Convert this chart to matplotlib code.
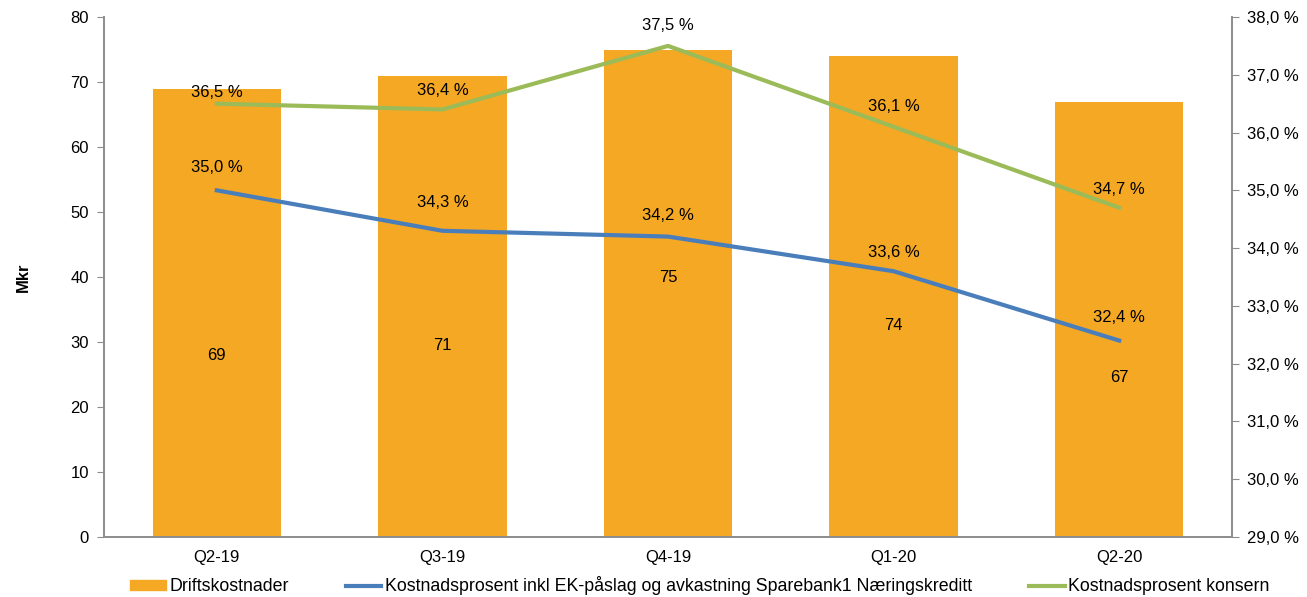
import matplotlib.pyplot as plt
from matplotlib.patches import Patch
from matplotlib.lines import Line2D

plt.rcParams['font.family'] = ['Liberation Sans', 'DejaVu Sans']

quarters = ['Q2-19', 'Q3-19', 'Q4-19', 'Q1-20', 'Q2-20']
driftskostnader = [69, 71, 75, 74, 67]
kost_inkl_ek = [35.0, 34.3, 34.2, 33.6, 32.4]
kost_konsern = [36.5, 36.4, 37.5, 36.1, 34.7]

# where the bar value labels sit (Mkr)
bar_label_y = [28, 29.5, 40, 32.5, 24.5]

orange = '#F5A823'
blue = '#4A7EBB'
green = '#9BBB59'
grey = '#8C8C8C'

fig = plt.figure(figsize=(13.07, 5.97), dpi=100)
ax = fig.add_axes([0.0796, 0.1005, 0.863, 0.871])
ax2 = ax.twinx()

x = range(len(quarters))
ax.bar(x, driftskostnader, width=0.57, color=orange, zorder=2)
ax.set_xlim(-0.5, len(quarters) - 0.5)
ax.set_ylim(0, 80)
ax.set_yticks(range(0, 81, 10))
ax.set_xticks(list(x))
ax.set_xticklabels(quarters)
ax.set_ylabel('Mkr', fontsize=12, fontweight='bold', labelpad=28)

for i, v in enumerate(driftskostnader):
    ax.text(i, bar_label_y[i], f'{v}', ha='center', va='center', fontsize=12)

ax2.plot(x, kost_inkl_ek, color=blue, lw=3, zorder=3)
ax2.plot(x, kost_konsern, color=green, lw=3, zorder=3)
ax2.set_ylim(29, 38)
ax2.set_yticks(range(29, 39))
ax2.set_yticklabels([f'{t},0 %' for t in range(29, 39)])

blue_off = [11, 15, 10, 8, 11]
green_off = [3, 8.5, 9, 9.5, 8]
for i, v in enumerate(kost_inkl_ek):
    ax2.annotate(f'{v:.1f} %'.replace('.', ','), (i, v), xytext=(0, blue_off[i]),
                 textcoords='offset points', ha='center', va='bottom', fontsize=12)
for i, v in enumerate(kost_konsern):
    ax2.annotate(f'{v:.1f} %'.replace('.', ','), (i, v), xytext=(0, green_off[i]),
                 textcoords='offset points', ha='center', va='bottom', fontsize=12)

for a in (ax, ax2):
    a.spines['top'].set_visible(False)
    for s in ('left', 'right', 'bottom'):
        a.spines[s].set_color(grey)
        a.spines[s].set_linewidth(1.2)
    a.tick_params(axis='y', colors='black', labelsize=12, length=5, color=grey)
    a.tick_params(axis='x', labelsize=12, length=0, pad=9)
ax.tick_params(axis='y', pad=6)
ax2.tick_params(axis='y', pad=6)

handles = [Patch(color=orange),
           Line2D([], [], color=blue, lw=3),
           Line2D([], [], color=green, lw=3)]
labels = ['Driftskostnader',
          'Kostnadsprosent inkl EK-påslag og avkastning Sparebank1 Næringskreditt',
          'Kostnadsprosent konsern']
fig.legend(handles, labels, loc='lower left', bbox_to_anchor=(0.0875, -0.024), ncol=3,
           frameon=False, fontsize=12.8, handlelength=2.0, handleheight=0.5,
           handletextpad=0.2, columnspacing=3.2)

fig.savefig('out.png', dpi=100)
